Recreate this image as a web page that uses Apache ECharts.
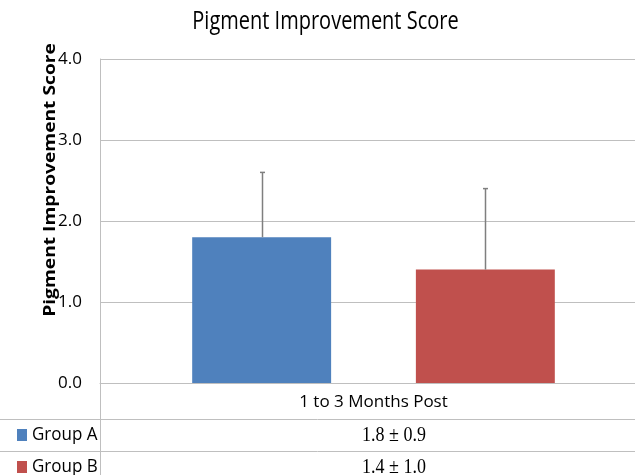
<!DOCTYPE html>
<html><head><meta charset="utf-8">
<script src="https://cdn.jsdelivr.net/npm/echarts@6/dist/echarts.min.js"></script>
<style>html,body{margin:0;padding:0;background:#fff}#c{width:635px;height:475px}</style>
</head><body><div id="c"></div>
<script>
const chartTitle = 'Pigment Improvement Score';
const yAxisName = 'Pigment Improvement Score';
const categories = ['1 to 3 Months Post'];
const seriesNames = ['Group A', 'Group B'];
const groupA = [1.8];
const groupB = [1.4];
const errA = [0.8];
const errB = [1.0];
const tableA = ['1.8 ± 0.9'];
const tableB = ['1.4 ± 1.0'];
const yMin = 0, yMax = 4, yStep = 1;

const colors = ['#4F81BD', '#C0504D'];
const SANS = '"Open Sans", "Noto Sans", sans-serif';
const SERIF = '"Liberation Serif", "DejaVu Serif", serif';
const gridLine = '#BFBFBF';

const chart = echarts.init(document.getElementById('c'), null, {renderer: 'canvas'});

const values = [groupA, groupB];
const errs = [errA, errB];
const tableVals = [tableA, tableB];

const errData = [];
values.forEach((arr, k) => arr.forEach((v, i) => errData.push([i, v, errs[k][i], k])));

const rowY = [419, 451];
const graphics = [
  {type: 'text', x: 325.5, y: 22, scaleY: 1.24,
   style: {text: chartTitle, font: '20px ' + SANS, fill: '#000', align: 'center', verticalAlign: 'middle'}},
  {type: 'text', x: 50, y: 180, rotation: Math.PI / 2, scaleX: 1.2,
   style: {text: yAxisName, font: 'bold 16px ' + SANS, fill: '#000', align: 'center', verticalAlign: 'middle'}},
  {type: 'line', shape: {x1: 100.5, y1: 383, x2: 100.5, y2: 475}, style: {stroke: gridLine, lineWidth: 1}},
];
rowY.forEach(y => graphics.push({type: 'line', shape: {x1: 0, y1: y + 0.5, x2: 635, y2: y + 0.5}, style: {stroke: gridLine, lineWidth: 1}}));
seriesNames.forEach((name, k) => {
  const cy = rowY[k] + 16;
  graphics.push({type: 'rect', shape: {x: 17, y: cy - 6, width: 10, height: 12}, style: {fill: colors[k]}});
  graphics.push({type: 'text', x: 32, y: cy, scaleY: 1.1, style: {text: name, font: '17px ' + SANS, fill: '#000', verticalAlign: 'middle'}});
  graphics.push({type: 'text', x: 394, y: cy, scaleY: 1.2, style: {text: tableVals[k][0], font: '18px ' + SERIF, fill: '#000', align: 'center', verticalAlign: 'middle'}});
});

chart.setOption({
  animation: false,
  backgroundColor: '#fff',
  grid: {left: 100, top: 59, width: 547, height: 324, containLabel: false, outerBoundsMode: 'none'},
  xAxis: {type: 'category', data: categories,
    axisLine: {show: true, lineStyle: {color: gridLine}},
    axisTick: {show: false},
    axisLabel: {color: '#000', fontFamily: SANS, fontSize: 17, margin: 11}},
  yAxis: {type: 'value', min: yMin, max: yMax, interval: yStep,
    axisLine: {show: true, lineStyle: {color: gridLine}},
    axisTick: {show: false},
    splitLine: {lineStyle: {color: gridLine}},
    axisLabel: {color: '#000', fontFamily: SANS, fontSize: 17, margin: 18, formatter: v => v.toFixed(1)}},
  series: [
    ...seriesNames.map((n, k) => ({type: 'bar', name: n, data: values[k],
      barWidth: '25.4%', barGap: '61%', itemStyle: {color: colors[k]}})),
    {type: 'custom', z: 10, data: errData,
      renderItem(params, api) {
        const cat = api.value(0), v = api.value(1), e = api.value(2), k = api.value(3);
        const band = api.size([1, 0])[0];
        const off = (k === 0 ? -1 : 1) * band * 0.2045;
        const p0 = api.coord([cat, v]);
        const p1 = api.coord([cat, v + e]);
        const x = Math.round(p0[0] + off) + 0.5;
        const st = {stroke: '#7F7F7F', lineWidth: 1.5};
        return {type: 'group', children: [
          {type: 'line', shape: {x1: x, y1: p0[1], x2: x, y2: p1[1]}, style: st},
          {type: 'line', shape: {x1: x - 2.5, y1: p1[1], x2: x + 2.5, y2: p1[1]}, style: st}
        ]};
      }}
  ],
  graphic: graphics
});
</script></body></html>
